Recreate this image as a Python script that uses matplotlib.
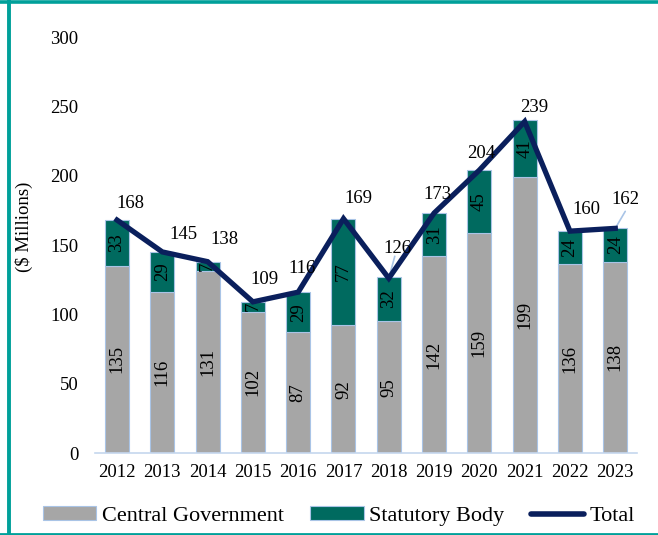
import matplotlib
matplotlib.use("Agg")
import matplotlib.pyplot as plt
from matplotlib.lines import Line2D
from matplotlib.patches import Patch
import numpy as np

years = ["2012", "2013", "2014", "2015", "2016", "2017", "2018", "2019", "2020", "2021", "2022", "2023"]
central = [135, 116, 131, 102, 87, 92, 95, 142, 159, 199, 136, 138]
statutory = [33, 29, 7, 7, 29, 77, 32, 31, 45, 41, 24, 24]
total = [168, 145, 138, 109, 116, 169, 126, 173, 204, 239, 160, 162]
yticks = [0, 50, 100, 150, 200, 250, 300]

# label offsets in pixels (dx, dy up)
label_off = [(13, 17), (21, 17), (17, 22), (12, 22), (4, 24), (15, 20),
             (9, 30), (3, 19), (2, 17), (10, 14), (16, 22), (10, 29)]

GREY = "#a6a6a6"
TEAL = "#006a5f"
NAVY = "#0a1f5c"
EDGE = "#a9c4e6"
BORDER = "#00a09a"

plt.rcParams['font.family'] = ['Liberation Serif', 'DejaVu Serif']

fig = plt.figure(figsize=(6.58, 5.35), dpi=100)
ax = fig.add_axes([95/658, 1-453/535, (637-95)/658, (453-37)/535])

x = np.arange(len(years))
w = 0.53
ax.bar(x, central, w, color=GREY, edgecolor=EDGE, linewidth=0.8, zorder=2)
ax.bar(x, statutory, w, bottom=central, color=TEAL, edgecolor=EDGE, linewidth=0.8, zorder=2)
ax.plot(x, total, color=NAVY, linewidth=3.8, solid_joinstyle='miter', zorder=4)

FS = 13.5
for i in range(len(years)):
    ax.text(x[i], central[i]/2, str(central[i]), rotation=90, ha='center', va='center',
            fontsize=FS, color='black', zorder=3)
    ax.text(x[i], central[i] + statutory[i]/2, str(statutory[i]), rotation=90, ha='center',
            va='center', fontsize=FS, color='black', zorder=3)
    dx, dy = label_off[i]
    ax.annotate(str(total[i]), (x[i], total[i]), xytext=(dx*0.72, dy*0.72),
                textcoords='offset points', ha='center', va='center', fontsize=FS, zorder=5)

# leader lines
ax.annotate("", (x[6], total[6]), xytext=(6*0.72, 22*0.72), textcoords='offset points',
            arrowprops=dict(arrowstyle='-', color=EDGE, lw=1.2, shrinkA=0, shrinkB=0), zorder=3)
ax.annotate("", (x[11], total[11]), xytext=(10*0.72, 17*0.72), textcoords='offset points',
            arrowprops=dict(arrowstyle='-', color=EDGE, lw=1.2, shrinkA=0, shrinkB=0), zorder=3)

ax.set_ylim(0, 300)
ax.set_xlim(-0.486, 11.48)
ax.set_yticks(yticks)
ax.set_xticks(x)
ax.set_xticklabels(years)
for s in ['top', 'right', 'left']:
    ax.spines[s].set_visible(False)
ax.spines['bottom'].set_color("#c5d7ee")
ax.spines['bottom'].set_linewidth(1.2)
ax.tick_params(axis='y', length=0, pad=12, labelsize=13.5)
ax.tick_params(axis='x', length=0, pad=8, labelsize=13.5)

fig.text(24/658, 1-227/535, "($ Millions)", rotation=90, ha='center', va='center', fontsize=13.5)

handles = [Patch(facecolor=GREY, edgecolor=EDGE, linewidth=0.8),
           Patch(facecolor=TEAL, edgecolor=EDGE, linewidth=0.8),
           Line2D([0], [0], color=NAVY, linewidth=4, solid_capstyle='round')]
fig.legend(handles, ["Central Government", "Statutory Body", "Total"], ncol=3,
           loc='center', bbox_to_anchor=(339/658, 1-516/535), frameon=False,
           fontsize=16, handlelength=2.4, handleheight=0.55, handletextpad=0.25,
           columnspacing=1.2)

# border
fig.add_artist(Line2D([0, 1], [1-1.5/535, 1-1.5/535], color=BORDER, lw=2.6, transform=fig.transFigure))
fig.add_artist(Line2D([8.5/658, 8.5/658], [0, 1], color=BORDER, lw=2.8, transform=fig.transFigure))
fig.add_artist(Line2D([0, 1], [1.5/535, 1.5/535], color=BORDER, lw=2.0, transform=fig.transFigure))

fig.savefig("out.png", dpi=100)
